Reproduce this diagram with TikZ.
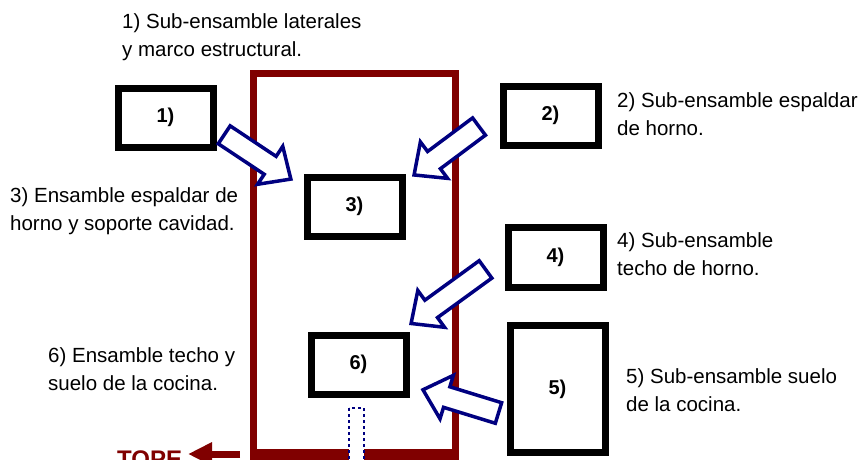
\documentclass[tikz,border=0pt]{standalone}
\usepackage{fontspec}
\setmainfont{Liberation Sans}
\usetikzlibrary{shapes.arrows}
\usetikzlibrary{arrows, arrows.meta}
\definecolor{marco}{HTML}{800000}
\definecolor{azul}{HTML}{000080}

\tikzset{
  caja/.style={draw=black, line width=7pt, fill=white, minimum width=95pt, minimum height=59.5pt, inner sep=0pt, font=\fontsize{20}{24}\selectfont\bfseries},
  flecha/.style={single arrow, draw=azul, line width=3.5pt, fill=white, inner xsep=0pt, inner ysep=9pt, single arrow head extend=12pt, single arrow tip angle=85, anchor=tip},
  texto/.style={anchor=base west, align=left, inner sep=0pt, font=\fontsize{20.5}{28}\selectfont}
}

\begin{document}
\begin{tikzpicture}[x=1pt, y=-1pt]
    \useasboundingbox (0,0) rectangle (860,459);
    \clip (0,0) rectangle (860,459);
    \draw [marco, line width=7pt] (253.5,456) rectangle (455,73.5);
    \fill [marco] (250,449) rectangle (458.5,465);
    \draw [azul, dashed, line width=1.2pt, fill=white] (349,408) rectangle (364,480);

    \node [caja] (b1) at (165.5,117.75) {1)};
    \node [caja] (b2) at (550.5,115.75) {2)};
    \node [caja] (b3) at (354.5,206.75) {3)};
    \node [caja] (b4) at (555.5,257.5) {4)};
    \node [caja, minimum height=126.5pt] (b5) at (557.5,389) {5)};
    \node [caja] (b6) at (358.5,364.75) {6)};

    \node [flecha, rotate=-33.6, minimum height=80pt] (f1) at (293,180.5) {};
    \node [flecha, rotate=-143.3, minimum height=81pt] (f2) at (412,176.5) {};
    \node [flecha, rotate=-144, minimum height=92pt] (f4) at (409,325) {};
    \node [flecha, rotate=162.9, minimum height=79pt] (f5) at (420.5,389) {};

    \node [texto] (t1) at (122,56.5) {1) Sub-ensamble laterales\\y marco estructural.};
    \node [texto] (t2) at (617,135) {2) Sub-ensamble espaldar\\de horno.};
    \node [texto] (t3) at (10,230) {3) Ensamble espaldar de\\horno y soporte cavidad.};
    \node [texto] (t4) at (617,275) {4) Sub-ensamble\\techo de horno.};
    \node [texto] (t5) at (626,411) {5) Sub-ensamble suelo\\de la cocina.};
    \node [texto] (t6) at (48,390) {6) Ensamble techo y\\suelo de la cocina.};

    \node [anchor=base west, inner sep=0pt, text=marco, font=\fontsize{24}{24}\selectfont\bfseries] (tope) at (117,467.2) {TOPE};
    \coordinate (topeIni) at (240,454);
    \coordinate (topeFin) at (188,454);
    \draw [marco, line width=7pt, -{Triangle[length=24pt, width=22pt]}] (topeIni) -- (topeFin);
  \end{tikzpicture}
\end{document}
